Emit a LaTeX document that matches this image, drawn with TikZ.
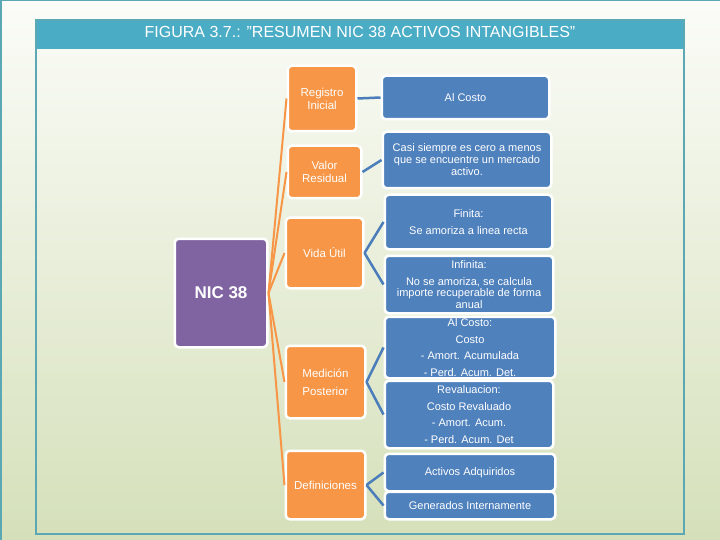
\documentclass[tikz,border=0pt]{standalone}
\usepackage{fontspec}
\setmainfont{Liberation Sans}
\definecolor{bgtop}{HTML}{FBFCF8}
\definecolor{bgbottom}{HTML}{D5E0BA}
\definecolor{frameteal}{HTML}{5BA7B3}
\definecolor{bandblue}{HTML}{4BACC6}
\definecolor{nicpurple}{HTML}{8064A2}
\definecolor{boxorange}{HTML}{F79646}
\definecolor{boxblue}{HTML}{4F81BD}
\definecolor{linkblue}{HTML}{4A7DBA}
\begin{document}
\begin{tikzpicture}[x=1pt, y=-1pt,
  box/.style={draw=white, line width=2.5pt, rounded corners=4pt, text=white, align=center, inner sep=1pt, font=\fontsize{11}{13}\selectfont},
  boxsize/.style 2 args={minimum width=#1, minimum height=#2},
  orangebox/.style={box, fill=boxorange, font=\fontsize{11.5}{13}\selectfont},
  bluebox/.style={box, fill=boxblue},
  tie/.style={line width=2pt, draw=boxorange},
  link/.style={line width=2.5pt, draw=linkblue}]
  \useasboundingbox (0,0) rectangle (720,540);
  \shade[top color=bgtop, bottom color=bgbottom] (0,0) rectangle (720,540);
  \draw[frameteal, line width=1.5pt] (0.75,540) -- (0.75,0.75) -- (720,0.75);
  \fill[bandblue] (36,20) rectangle (684,49);
  \draw[frameteal, line width=2pt] (36,20) rectangle (684,534);
  \node[text=white, font=\fontsize{16}{18}\selectfont] (title) at (360,31.5) {FIGURA 3.7.: "RESUMEN NIC 38 ACTIVOS INTANGIBLES"};
  \node[box, fill=nicpurple, boxsize={92.5pt}{108.5pt}, font=\fontsize{17}{20}\selectfont\bfseries] (nic) at (221,293) {NIC 38};
  \node[orangebox, boxsize={68.5pt}{65.5pt}] (reg) at (322,98.5) {Registro\\Inicial};
  \node[orangebox, boxsize={73.5pt}{52.5pt}] (res) at (324.5,172) {Valor\\Residual};
  \node[orangebox, boxsize={77.5pt}{70.5pt}] (vida) at (324.5,253) {Vida Útil};
  \node[orangebox, boxsize={79.5pt}{72.5pt}, font=\fontsize{11.5}{18}\selectfont] (med) at (325.5,382) {Medición\\Posterior};
  \node[orangebox, boxsize={79.5pt}{68.5pt}] (defs) at (325.5,485) {Definiciones};
  \node[bluebox, boxsize={167.5pt}{43.5pt}] (costo) at (465.5,97.5) {Al Costo};
  \node[bluebox, boxsize={168.5pt}{56.5pt}, font=\fontsize{11}{12}\selectfont] (resid) at (467,160) {Casi siempre es cero a menos\\que se encuentre un mercado\\activo.};
  \node[bluebox, boxsize={167.5pt}{54.5pt}, font=\fontsize{11}{17}\selectfont] (finita) at (468.5,222) {Finita:\\Se amoriza a linea recta};
  \node[bluebox, boxsize={168.5pt}{57.5pt}, font=\fontsize{11}{11.5}\selectfont] (infin) at (469,284.5) {Infinita:\\[5.5pt]No se amoriza, se calcula\\importe recuperable de forma\\anual};
  \node[bluebox, boxsize={170.5pt}{61.5pt}, font=\fontsize{11}{16.7}\selectfont] (alcosto) at (470,347.5) {Al Costo:\\Costo\\- Amort. Acumulada\\- Perd. Acum. Det.};
  \node[bluebox, boxsize={168.5pt}{67.5pt}, font=\fontsize{11}{16.7}\selectfont] (reval) at (469,414.5) {Revaluacion:\\Costo Revaluado\\- Amort. Acum.\\- Perd. Acum. Det};
  \node[bluebox, boxsize={170.5pt}{37.5pt}] (adq) at (470,472.5) {Activos Adquiridos};
  \node[bluebox, boxsize={170.5pt}{27.5pt}] (gen) at (470,505.5) {Generados Internamente};
  \draw[tie] (nic.east) -- (reg.west);
  \draw[tie] (nic.east) -- (res.west);
  \draw[tie] (nic.east) -- (vida.west);
  \draw[tie] (nic.east) -- (med.west);
  \draw[tie] (nic.east) -- (defs.west);
  \draw[link] (reg.east) -- (costo.west);
  \draw[link] (res.east) -- (resid.west);
  \draw[link] (vida.east) -- (finita.west);
  \draw[link] (vida.east) -- (infin.west);
  \draw[link] (med.east) -- (alcosto.west);
  \draw[link] (med.east) -- (reval.west);
  \draw[link] (defs.east) -- (adq.west);
  \draw[link] (defs.east) -- (gen.west);
\end{tikzpicture}
\end{document}
